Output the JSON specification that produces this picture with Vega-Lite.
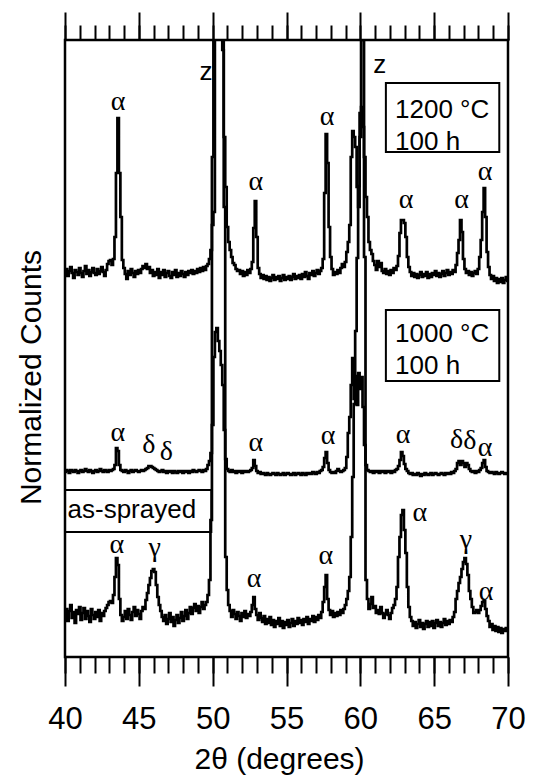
{
"$schema": "https://vega.github.io/schema/vega-lite/v6.json",
"width": 443, "height": 617,
"autosize": {"type": "none"},
"padding": {"left": 65, "top": 40, "right": 26, "bottom": 118},
"background": "white",
"config": {"view": {"stroke": "black", "strokeWidth": 2.5}, "font": "Liberation Sans"},
"datasets": {
"xrd": [
{"x":40.0,"T":383,"M":185,"B":40},{"x":40.1,"T":388,"M":187,"B":48},{"x":40.2,"T":381,"M":186,"B":36},{"x":40.3,"T":386,"M":184,"B":46},{"x":40.4,"T":390,"M":187,"B":52},{"x":40.5,"T":384,"M":186,"B":39},{"x":40.6,"T":379,"M":185,"B":45},{"x":40.7,"T":387,"M":187,"B":34},{"x":40.8,"T":385,"M":186,"B":47},{"x":40.9,"T":382,"M":184,"B":43},
{"x":41.0,"T":389,"M":186,"B":50},{"x":41.1,"T":384,"M":187,"B":37},{"x":41.2,"T":380,"M":185,"B":44},{"x":41.3,"T":386,"M":186,"B":49},{"x":41.4,"T":391,"M":188,"B":38},{"x":41.5,"T":383,"M":186,"B":46},{"x":41.6,"T":387,"M":185,"B":41},{"x":41.7,"T":381,"M":187,"B":35},{"x":41.8,"T":385,"M":186,"B":48},{"x":41.9,"T":389,"M":184,"B":42},
{"x":42.0,"T":384,"M":186,"B":38},{"x":42.1,"T":382,"M":187,"B":45},{"x":42.2,"T":388,"M":185,"B":40},{"x":42.3,"T":383,"M":186,"B":47},{"x":42.4,"T":386,"M":188,"B":36},{"x":42.5,"T":390,"M":186,"B":44},{"x":42.6,"T":385,"M":185,"B":41},{"x":42.7,"T":381,"M":187,"B":46},{"x":42.8,"T":387,"M":186,"B":49},{"x":42.9,"T":393,"M":185,"B":52},
{"x":43.0,"T":396,"M":187,"B":55},{"x":43.1,"T":397,"M":186,"B":56},{"x":43.2,"T":392,"M":187,"B":54},{"x":43.3,"T":398,"M":188,"B":62},{"x":43.4,"T":420,"M":192,"B":80},{"x":43.5,"T":484,"M":209,"B":99},{"x":43.6,"T":539,"M":206,"B":92},{"x":43.7,"T":484,"M":192,"B":58},{"x":43.8,"T":440,"M":187,"B":42},{"x":43.9,"T":397,"M":186,"B":36},
{"x":44.0,"T":389,"M":185,"B":40},{"x":44.1,"T":383,"M":187,"B":46},{"x":44.2,"T":378,"M":186,"B":38},{"x":44.3,"T":386,"M":184,"B":48},{"x":44.4,"T":382,"M":186,"B":42},{"x":44.5,"T":388,"M":187,"B":37},{"x":44.6,"T":384,"M":185,"B":45},{"x":44.7,"T":380,"M":186,"B":50},{"x":44.8,"T":386,"M":187,"B":41},{"x":44.9,"T":383,"M":186,"B":47},
{"x":45.0,"T":387,"M":185,"B":43},{"x":45.1,"T":384,"M":186,"B":38},{"x":45.2,"T":388,"M":187,"B":46},{"x":45.3,"T":391,"M":186,"B":50},{"x":45.4,"T":389,"M":187,"B":48},{"x":45.5,"T":393,"M":188,"B":57},{"x":45.6,"T":388,"M":189,"B":64},{"x":45.7,"T":390,"M":191,"B":72},{"x":45.8,"T":384,"M":191,"B":79},{"x":45.9,"T":387,"M":190,"B":86},
{"x":46.0,"T":381,"M":189,"B":88},{"x":46.1,"T":385,"M":188,"B":85},{"x":46.2,"T":382,"M":187,"B":72},{"x":46.3,"T":388,"M":186,"B":60},{"x":46.4,"T":379,"M":185,"B":52},{"x":46.5,"T":385,"M":186,"B":46},{"x":46.6,"T":382,"M":187,"B":40},{"x":46.7,"T":387,"M":185,"B":36},{"x":46.8,"T":380,"M":186,"B":42},{"x":46.9,"T":384,"M":184,"B":33},
{"x":47.0,"T":386,"M":186,"B":38},{"x":47.1,"T":381,"M":185,"B":44},{"x":47.2,"T":379,"M":186,"B":35},{"x":47.3,"T":385,"M":184,"B":40},{"x":47.4,"T":382,"M":186,"B":31},{"x":47.5,"T":387,"M":185,"B":37},{"x":47.6,"T":380,"M":184,"B":42},{"x":47.7,"T":384,"M":186,"B":34},{"x":47.8,"T":381,"M":185,"B":39},{"x":47.9,"T":386,"M":186,"B":45},
{"x":48.0,"T":383,"M":184,"B":36},{"x":48.1,"T":380,"M":186,"B":41},{"x":48.2,"T":385,"M":185,"B":47},{"x":48.3,"T":382,"M":186,"B":38},{"x":48.4,"T":386,"M":184,"B":44},{"x":48.5,"T":384,"M":186,"B":50},{"x":48.6,"T":387,"M":185,"B":43},{"x":48.7,"T":383,"M":187,"B":49},{"x":48.8,"T":386,"M":186,"B":53},{"x":48.9,"T":384,"M":185,"B":46},
{"x":49.0,"T":388,"M":186,"B":51},{"x":49.1,"T":385,"M":187,"B":44},{"x":49.2,"T":389,"M":186,"B":50},{"x":49.3,"T":386,"M":185,"B":55},{"x":49.4,"T":390,"M":187,"B":48},{"x":49.5,"T":387,"M":186,"B":52},{"x":49.6,"T":391,"M":188,"B":55},{"x":49.7,"T":393,"M":192,"B":62},{"x":49.8,"T":398,"M":196,"B":77},{"x":49.9,"T":407,"M":204,"B":137},
{"x":50.0,"T":432,"M":232,"B":500},{"x":50.1,"T":445,"M":300,"B":800},{"x":50.2,"T":1000,"M":325,"B":1100},{"x":50.3,"T":1250,"M":329,"B":1300},{"x":50.4,"T":1250,"M":316,"B":1400},{"x":50.5,"T":1050,"M":306,"B":1300},{"x":50.6,"T":750,"M":292,"B":1100},{"x":50.7,"T":607,"M":272,"B":800},{"x":50.8,"T":520,"M":227,"B":450},{"x":50.9,"T":470,"M":198,"B":100},
{"x":51.0,"T":430,"M":188,"B":67},{"x":51.1,"T":415,"M":186,"B":52},{"x":51.2,"T":407,"M":185,"B":46},{"x":51.3,"T":400,"M":187,"B":40},{"x":51.4,"T":394,"M":185,"B":47},{"x":51.5,"T":392,"M":186,"B":43},{"x":51.6,"T":388,"M":184,"B":38},{"x":51.7,"T":386,"M":186,"B":45},{"x":51.8,"T":387,"M":185,"B":41},{"x":51.9,"T":383,"M":186,"B":36},
{"x":52.0,"T":386,"M":184,"B":44},{"x":52.1,"T":381,"M":186,"B":40},{"x":52.2,"T":385,"M":185,"B":46},{"x":52.3,"T":382,"M":186,"B":39},{"x":52.4,"T":387,"M":185,"B":43},{"x":52.5,"T":384,"M":186,"B":41},{"x":52.6,"T":388,"M":187,"B":45},{"x":52.7,"T":395,"M":189,"B":52},{"x":52.8,"T":429,"M":197,"B":60},{"x":52.9,"T":456,"M":191,"B":48},
{"x":53.0,"T":420,"M":186,"B":42},{"x":53.1,"T":389,"M":184,"B":37},{"x":53.2,"T":383,"M":185,"B":44},{"x":53.3,"T":379,"M":183,"B":39},{"x":53.4,"T":382,"M":184,"B":35},{"x":53.5,"T":378,"M":183,"B":41},{"x":53.6,"T":381,"M":182,"B":33},{"x":53.7,"T":377,"M":184,"B":38},{"x":53.8,"T":380,"M":183,"B":34},{"x":53.9,"T":376,"M":182,"B":40},
{"x":54.0,"T":379,"M":183,"B":32},{"x":54.1,"T":382,"M":184,"B":37},{"x":54.2,"T":377,"M":183,"B":30},{"x":54.3,"T":380,"M":182,"B":36},{"x":54.4,"T":378,"M":184,"B":33},{"x":54.5,"T":381,"M":183,"B":39},{"x":54.6,"T":376,"M":182,"B":31},{"x":54.7,"T":379,"M":183,"B":36},{"x":54.8,"T":382,"M":184,"B":29},{"x":54.9,"T":377,"M":182,"B":35},
{"x":55.0,"T":380,"M":183,"B":32},{"x":55.1,"T":378,"M":184,"B":37},{"x":55.2,"T":381,"M":183,"B":30},{"x":55.3,"T":377,"M":182,"B":34},{"x":55.4,"T":380,"M":183,"B":38},{"x":55.5,"T":383,"M":184,"B":31},{"x":55.6,"T":378,"M":182,"B":36},{"x":55.7,"T":381,"M":183,"B":33},{"x":55.8,"T":379,"M":184,"B":39},{"x":55.9,"T":382,"M":183,"B":34},
{"x":56.0,"T":378,"M":182,"B":37},{"x":56.1,"T":383,"M":184,"B":32},{"x":56.2,"T":380,"M":183,"B":38},{"x":56.3,"T":385,"M":182,"B":35},{"x":56.4,"T":381,"M":184,"B":40},{"x":56.5,"T":378,"M":183,"B":33},{"x":56.6,"T":384,"M":184,"B":38},{"x":56.7,"T":382,"M":183,"B":36},{"x":56.8,"T":386,"M":185,"B":41},{"x":56.9,"T":381,"M":184,"B":35},
{"x":57.0,"T":384,"M":183,"B":40},{"x":57.1,"T":387,"M":185,"B":37},{"x":57.2,"T":383,"M":184,"B":42},{"x":57.3,"T":386,"M":186,"B":39},{"x":57.4,"T":389,"M":187,"B":45},{"x":57.5,"T":398,"M":190,"B":55},{"x":57.6,"T":464,"M":199,"B":70},{"x":57.7,"T":523,"M":205,"B":82},{"x":57.8,"T":494,"M":194,"B":58},{"x":57.9,"T":430,"M":187,"B":47},
{"x":58.0,"T":400,"M":185,"B":42},{"x":58.1,"T":388,"M":184,"B":46},{"x":58.2,"T":382,"M":185,"B":40},{"x":58.3,"T":385,"M":184,"B":44},{"x":58.4,"T":383,"M":186,"B":41},{"x":58.5,"T":387,"M":188,"B":45},{"x":58.6,"T":384,"M":186,"B":42},{"x":58.7,"T":389,"M":185,"B":47},{"x":58.8,"T":393,"M":186,"B":44},{"x":58.9,"T":390,"M":187,"B":48},
{"x":59.0,"T":395,"M":189,"B":52},{"x":59.1,"T":405,"M":200,"B":58},{"x":59.2,"T":415,"M":224,"B":66},{"x":59.3,"T":432,"M":240,"B":80},{"x":59.4,"T":500,"M":272,"B":120},{"x":59.5,"T":526,"M":299,"B":180},{"x":59.6,"T":520,"M":258,"B":253},{"x":59.7,"T":510,"M":281,"B":326},{"x":59.8,"T":470,"M":252,"B":399},{"x":59.9,"T":450,"M":284,"B":471},
{"x":60.0,"T":520,"M":268,"B":544},{"x":60.1,"T":550,"M":280,"B":617},{"x":60.2,"T":530,"M":250,"B":690},{"x":60.3,"T":500,"M":212,"B":400},{"x":60.4,"T":460,"M":192,"B":77},{"x":60.5,"T":440,"M":187,"B":58},{"x":60.6,"T":415,"M":186,"B":48},{"x":60.7,"T":407,"M":185,"B":53},{"x":60.8,"T":403,"M":186,"B":60},{"x":60.9,"T":396,"M":184,"B":49},
{"x":61.0,"T":392,"M":186,"B":51},{"x":61.1,"T":387,"M":185,"B":44},{"x":61.2,"T":396,"M":186,"B":47},{"x":61.3,"T":390,"M":184,"B":43},{"x":61.4,"T":394,"M":186,"B":50},{"x":61.5,"T":386,"M":185,"B":44},{"x":61.6,"T":384,"M":186,"B":39},{"x":61.7,"T":388,"M":184,"B":43},{"x":61.8,"T":383,"M":186,"B":47},{"x":61.9,"T":386,"M":185,"B":42},
{"x":62.0,"T":382,"M":186,"B":38},{"x":62.1,"T":387,"M":184,"B":44},{"x":62.2,"T":384,"M":186,"B":49},{"x":62.3,"T":389,"M":185,"B":52},{"x":62.4,"T":387,"M":187,"B":58},{"x":62.5,"T":391,"M":188,"B":70},{"x":62.6,"T":401,"M":191,"B":100},{"x":62.7,"T":424,"M":197,"B":120},{"x":62.8,"T":437,"M":205,"B":142},{"x":62.9,"T":437,"M":201,"B":147},
{"x":63.0,"T":434,"M":193,"B":127},{"x":63.1,"T":420,"M":188,"B":104},{"x":63.2,"T":400,"M":186,"B":70},{"x":63.3,"T":390,"M":184,"B":50},{"x":63.4,"T":385,"M":183,"B":40},{"x":63.5,"T":381,"M":184,"B":36},{"x":63.6,"T":384,"M":182,"B":31},{"x":63.7,"T":380,"M":183,"B":35},{"x":63.8,"T":383,"M":182,"B":29},{"x":63.9,"T":379,"M":184,"B":33},
{"x":64.0,"T":382,"M":183,"B":37},{"x":64.1,"T":385,"M":181,"B":30},{"x":64.2,"T":380,"M":183,"B":34},{"x":64.3,"T":383,"M":182,"B":28},{"x":64.4,"T":381,"M":184,"B":33},{"x":64.5,"T":385,"M":183,"B":36},{"x":64.6,"T":379,"M":182,"B":30},{"x":64.7,"T":383,"M":183,"B":35},{"x":64.8,"T":380,"M":184,"B":31},{"x":64.9,"T":384,"M":182,"B":36},
{"x":65.0,"T":382,"M":183,"B":29},{"x":65.1,"T":386,"M":184,"B":34},{"x":65.2,"T":381,"M":183,"B":37},{"x":65.3,"T":384,"M":182,"B":31},{"x":65.4,"T":380,"M":183,"B":35},{"x":65.5,"T":383,"M":184,"B":30},{"x":65.6,"T":386,"M":183,"B":34},{"x":65.7,"T":381,"M":182,"B":38},{"x":65.8,"T":384,"M":184,"B":32},{"x":65.9,"T":387,"M":183,"B":36},
{"x":66.0,"T":382,"M":184,"B":33},{"x":66.1,"T":385,"M":183,"B":37},{"x":66.2,"T":383,"M":185,"B":35},{"x":66.3,"T":387,"M":184,"B":40},{"x":66.4,"T":385,"M":186,"B":45},{"x":66.5,"T":392,"M":188,"B":58},{"x":66.6,"T":404,"M":194,"B":66},{"x":66.7,"T":417,"M":196,"B":74},{"x":66.8,"T":437,"M":192,"B":80},{"x":66.9,"T":425,"M":196,"B":88},
{"x":67.0,"T":398,"M":194,"B":95},{"x":67.1,"T":388,"M":190,"B":99},{"x":67.2,"T":384,"M":194,"B":93},{"x":67.3,"T":386,"M":192,"B":82},{"x":67.4,"T":382,"M":188,"B":66},{"x":67.5,"T":385,"M":186,"B":58},{"x":67.6,"T":381,"M":185,"B":50},{"x":67.7,"T":384,"M":186,"B":44},{"x":67.8,"T":386,"M":184,"B":45},{"x":67.9,"T":383,"M":186,"B":47},
{"x":68.0,"T":388,"M":185,"B":44},{"x":68.1,"T":400,"M":187,"B":47},{"x":68.2,"T":417,"M":189,"B":51},{"x":68.3,"T":445,"M":194,"B":55},{"x":68.4,"T":469,"M":197,"B":56},{"x":68.5,"T":440,"M":190,"B":48},{"x":68.6,"T":405,"M":186,"B":41},{"x":68.7,"T":390,"M":185,"B":36},{"x":68.8,"T":382,"M":184,"B":30},{"x":68.9,"T":378,"M":185,"B":33},
{"x":69.0,"T":381,"M":184,"B":27},{"x":69.1,"T":376,"M":183,"B":31},{"x":69.2,"T":379,"M":185,"B":26},{"x":69.3,"T":374,"M":184,"B":30},{"x":69.4,"T":378,"M":183,"B":25},{"x":69.5,"T":375,"M":184,"B":29},{"x":69.6,"T":379,"M":185,"B":24},{"x":69.7,"T":374,"M":184,"B":28},{"x":69.8,"T":377,"M":183,"B":26},{"x":69.9,"T":380,"M":184,"B":29},
{"x":70.0,"T":376,"M":184,"B":27}
],
"boxes": [
{"x1":61.73,"x2":69.41,"y1":574,"y2":505},
{"x1":61.73,"x2":69.41,"y1":347,"y2":276},
{"x1":40.0,"x2":49.91,"y1":167,"y2":125}
],
"greek": [
{"x":43.6,"y":555,"t":"α"},{"x":52.92,"y":475,"t":"α"},{"x":57.75,"y":540,"t":"α"},{"x":63.09,"y":457,"t":"α"},{"x":66.86,"y":457,"t":"α"},{"x":68.44,"y":485,"t":"α"},
{"x":43.58,"y":224,"t":"α"},{"x":45.68,"y":212,"t":"δ"},{"x":46.86,"y":205,"t":"δ"},{"x":52.92,"y":214,"t":"α"},{"x":57.82,"y":221,"t":"α"},{"x":62.9,"y":222,"t":"α"},{"x":66.52,"y":217,"t":"δ"},{"x":67.42,"y":216,"t":"δ"},{"x":68.44,"y":209,"t":"α"},
{"x":43.51,"y":112,"t":"α"},{"x":46.07,"y":109,"t":"γ"},{"x":52.8,"y":78,"t":"α"},{"x":57.66,"y":101,"t":"α"},{"x":64.03,"y":144,"t":"α"},{"x":67.15,"y":117,"t":"γ"},{"x":68.51,"y":65,"t":"α"}
],
"zlab": [
{"x":49.55,"y":585,"t":"z"},{"x":61.32,"y":592,"t":"z"}
],
"boxtext": [
{"x":62.35,"y":539,"t":"1200 °C"},{"x":62.35,"y":507,"t":"100 h"},
{"x":62.35,"y":315,"t":"1000 °C"},{"x":62.35,"y":283,"t":"100 h"},
{"x":40.17,"y":139,"t":"as-sprayed"}
]
},
"resolve": {"axis": {"x": "independent", "y": "independent"}},
"layer": [
{
"data": {"name": "xrd"},
"transform": [{"fold": ["T", "M", "B"], "as": ["trace", "v"]}],
"mark": {"type": "line", "clip": true, "color": "black", "strokeWidth": 2.7, "strokeJoin": "miter", "strokeMiterLimit": 2, "interpolate": "step"},
"encoding": {
"x": {"field": "x", "type": "quantitative", "scale": {"domain": [40, 70], "nice": false, "zero": false},
"axis": {"orient": "bottom", "values": [40, 45, 50, 55, 60, 65, 70], "tickSize": 29, "tickWidth": 2, "tickColor": "black", "domain": false, "grid": false,
"labelFontSize": 31, "labelFont": "Liberation Sans", "labelColor": "black", "labelBaseline": "alphabetic", "labelPadding": 42, "labelFlush": false, "labelOverlap": false, "labelBound": false,
"title": "2θ (degrees)", "titleFontSize": 30, "titleFont": "Liberation Sans", "titleFontWeight": "normal", "titleColor": "black", "titleX": 214, "titleY": 111, "titleAlign": "center", "titleBaseline": "alphabetic"}},
"y": {"field": "v", "type": "quantitative", "scale": {"domain": [0, 617], "nice": false, "zero": false},
"axis": {"title": "Normalized Counts", "labels": false, "ticks": false, "domain": false, "grid": false, "titleFontSize": 30, "titleFont": "Liberation Sans", "titleFontWeight": "normal", "titleColor": "black", "titleAngle": 270, "titleX": -34, "titleY": 337, "titleAlign": "center", "titleBaseline": "middle"}},
"detail": {"field": "trace", "type": "nominal"}
}
},
{
"data": {"name": "boxes"},
"mark": {"type": "rect", "filled": false, "color": "black", "strokeWidth": 2},
"encoding": {
"x": {"field": "x1", "type": "quantitative", "axis": {"orient": "bottom", "values": [40,41,42,43,44,45,46,47,48,49,50,51,52,53,54,55,56,57,58,59,60,61,62,63,64,65,66,67,68,69,70], "tickSize": 16, "tickWidth": 2, "tickColor": "black", "labels": false, "domain": false, "grid": false, "title": null}},
"x2": {"field": "x2"},
"y": {"field": "y1", "type": "quantitative", "axis": null},
"y2": {"field": "y2"}
}
},
{
"data": {"name": "greek"},
"mark": {"type": "text", "font": "Liberation Serif", "fontSize": 28, "color": "black", "align": "center", "baseline": "middle"},
"encoding": {
"x": {"field": "x", "type": "quantitative", "axis": {"orient": "top", "values": [40, 45, 50, 55, 60, 65, 70], "tickSize": 28, "tickWidth": 2, "tickColor": "black", "labels": false, "domain": false, "grid": false, "title": null}},
"y": {"field": "y", "type": "quantitative", "axis": null},
"text": {"field": "t"}
}
},
{
"data": {"name": "zlab"},
"mark": {"type": "text", "font": "Liberation Sans", "fontSize": 26, "color": "black", "align": "center", "baseline": "middle"},
"encoding": {
"x": {"field": "x", "type": "quantitative", "axis": {"orient": "top", "values": [40,41,42,43,44,45,46,47,48,49,50,51,52,53,54,55,56,57,58,59,60,61,62,63,64,65,66,67,68,69,70], "tickSize": 15, "tickWidth": 2, "tickColor": "black", "labels": false, "domain": false, "grid": false, "title": null}},
"y": {"field": "y", "type": "quantitative", "axis": null},
"text": {"field": "t"}
}
},
{
"data": {"name": "boxtext"},
"mark": {"type": "text", "font": "Liberation Sans", "fontSize": 26, "color": "black", "align": "left", "baseline": "alphabetic"},
"encoding": {
"x": {"field": "x", "type": "quantitative", "axis": null},
"y": {"field": "y", "type": "quantitative", "axis": null},
"text": {"field": "t"}
}
}
]
}
